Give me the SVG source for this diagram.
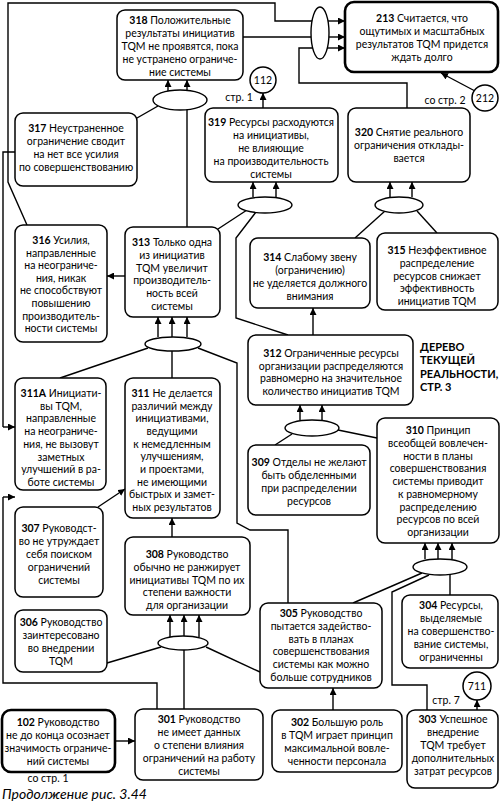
<svg xmlns="http://www.w3.org/2000/svg" width="500" height="802" viewBox="0 0 500 802">
<style>
.b{fill:#fff;stroke:#000;stroke-width:1.5}
.k{fill:#fff;stroke:#000;stroke-width:2.6}
.e{fill:#fff;stroke:#000;stroke-width:1.4}
.c{fill:none;stroke:#000;stroke-width:1.4}
.a{fill:none;stroke:#000;stroke-width:1.4;marker-end:url(#ah)}
text{font-family:Lato,"Open Sans",sans-serif;font-size:10.5px;fill:#000;text-anchor:middle}
.n{font-weight:700}
.ti{font-weight:700;font-size:11px;text-anchor:start}
.cap{font-style:italic;font-size:14px;text-anchor:start}
</style>
<defs>
<marker id="ah" markerUnits="userSpaceOnUse" markerWidth="8" markerHeight="7" refX="7" refY="3.5" orient="auto">
<path d="M0,0 L7,3.5 L0,7 z" fill="#000"/>
</marker>
</defs>
<rect width="500" height="802" fill="#fff"/>

<g id="connectors">
<path class="c" d="M27,225 L8,182 L8,3 L275,3 L275,21 L313,21"/>
<path class="c" d="M243,37 L311,37"/>
<path class="c" d="M407,108 L407,83 L299,83 L299,48 L313,48"/>
<path class="a" d="M328,21 L345,21"/>
<path class="a" d="M329,37 L345,37"/>
<path class="a" d="M327,48 L345,48"/>
<path class="a" d="M475,91 L441,73"/>
<path class="a" d="M168,91 L168,80"/>
<path class="a" d="M187,91 L187,80"/>
<path class="c" d="M137,118 L158,106"/>
<path class="c" d="M187,227 L187,109"/>
<path class="c" d="M15,152 L3,152 L3,427"/>
<path class="a" d="M3,427 L15,427"/>
<path class="a" d="M263,108 L263,93"/>
<path class="a" d="M253,197 L253,182"/>
<path class="a" d="M276,197 L276,182"/>
<path class="c" d="M218,229 L247,210"/>
<path class="c" d="M288,335 L236,318 L236,238 L256,212"/>
<path class="a" d="M390,197 L390,182"/>
<path class="a" d="M412,197 L412,182"/>
<path class="c" d="M355,238 L385,211"/>
<path class="c" d="M437,233 L417,211"/>
<path class="a" d="M125,276 L107,276"/>
<path class="a" d="M158,337 L158,317"/>
<path class="a" d="M172,337 L172,317"/>
<path class="a" d="M187,337 L187,317"/>
<path class="c" d="M60,378 L148,348"/>
<path class="c" d="M172,378 L172,351"/>
<path class="c" d="M198,348 L237,363 L237,523 L250,530 L288,530 L288,603"/>
<path class="a" d="M313,335 L313,308"/>
<path class="a" d="M300,420 L300,405"/>
<path class="a" d="M322,420 L322,405"/>
<path class="c" d="M275,445 L292,434"/>
<path class="c" d="M377,438 L338,430"/>
<path class="a" d="M425,559 L425,543"/>
<path class="a" d="M438,559 L438,543"/>
<path class="a" d="M452,559 L452,543"/>
<path class="c" d="M353,603 L422,573"/>
<path class="c" d="M427,710 L427,685 L392,685 L392,592 L429,575"/>
<path class="c" d="M450,595 L450,575"/>
<path class="a" d="M477,710 L477,700"/>
<path class="a" d="M333,710 L333,688"/>
<path class="a" d="M115,741 L135,741"/>
<path class="c" d="M157,709 L157,683 L3,683 L3,497"/>
<path class="a" d="M3,497 L15,497"/>
<path class="c" d="M184,709 L184,650"/>
<path class="c" d="M107,663 L161,647"/>
<path class="c" d="M206,647 L260,672"/>
<path class="a" d="M170,637 L170,615"/>
<path class="a" d="M184,636 L184,615"/>
<path class="a" d="M199,637 L199,615"/>
<path class="a" d="M172,537 L172,518"/>
<path class="a" d="M98,507 L125,489"/>
</g>

<g id="ands">
<ellipse class="e" cx="320" cy="33" rx="9" ry="26"/>
<ellipse class="e" cx="180" cy="100" rx="27" ry="10"/>
<ellipse class="e" cx="265" cy="205" rx="27" ry="8"/>
<ellipse class="e" cx="399" cy="205" rx="24" ry="8"/>
<ellipse class="e" cx="173" cy="344" rx="28" ry="7"/>
<ellipse class="e" cx="312" cy="428" rx="27" ry="8"/>
<ellipse class="e" cx="440" cy="567" rx="27" ry="8"/>
<ellipse class="e" cx="183" cy="643" rx="25" ry="7"/>
</g>

<g id="n213"><rect class="k" x="345" y="2" width="153" height="70" rx="9"/>
<text><tspan x="422" y="22"><tspan class="n">213</tspan> Считается, что</tspan><tspan x="422" y="35">ощутимых и масштабных</tspan><tspan x="422" y="48">результатов TQM придется</tspan><tspan x="422" y="61">ждать долго</tspan></text></g>

<g id="n318"><rect class="b" x="117" y="10" width="126" height="70" rx="8"/>
<text><tspan x="180" y="24"><tspan class="n">318</tspan> Положительные</tspan><tspan x="180" y="37">результаты инициатив</tspan><tspan x="180" y="50">TQM не проявятся, пока</tspan><tspan x="180" y="63">не устранено ограниче-</tspan><tspan x="180" y="76">ние системы</tspan></text></g>

<g id="n317"><rect class="b" x="15" y="113" width="122" height="73" rx="8"/>
<text><tspan x="76" y="132"><tspan class="n">317</tspan> Неустраненное</tspan><tspan x="76" y="145">ограничение сводит</tspan><tspan x="76" y="158">на нет все усилия</tspan><tspan x="76" y="171">по совершенствованию</tspan></text></g>

<g id="c112"><circle class="b" cx="263" cy="80" r="13"/><text x="263" y="84">112</text></g>
<text x="239" y="101">стр. 1</text>

<g id="c212"><circle class="b" cx="485" cy="98" r="13"/><text x="485" y="102">212</text></g>
<text x="445" y="104">со стр. 2</text>

<g id="n319"><rect class="b" x="205" y="108" width="133" height="74" rx="8"/>
<text><tspan x="271" y="126"><tspan class="n">319</tspan> Ресурсы расходуются</tspan><tspan x="271" y="139">на инициативы,</tspan><tspan x="271" y="152">не влияющие</tspan><tspan x="271" y="165">на производительность</tspan><tspan x="271" y="178">системы</tspan></text></g>

<g id="n320"><rect class="b" x="348" y="108" width="122" height="74" rx="8"/>
<text><tspan x="409" y="136"><tspan class="n">320</tspan> Снятие реального</tspan><tspan x="409" y="149">ограничения отклады-</tspan><tspan x="409" y="162">вается</tspan></text></g>

<g id="n316"><rect class="b" x="15" y="225" width="92" height="117" rx="8"/>
<text><tspan x="61" y="244"><tspan class="n">316</tspan> Усилия,</tspan><tspan x="61" y="256.6">направленные</tspan><tspan x="61" y="269.2">на неограниче-</tspan><tspan x="61" y="281.8">ния, никак</tspan><tspan x="61" y="294.4">не способствуют</tspan><tspan x="61" y="307">повышению</tspan><tspan x="61" y="319.6">производитель-</tspan><tspan x="61" y="332.2">ности системы</tspan></text></g>

<g id="n313"><rect class="b" x="125" y="227" width="95" height="90" rx="8"/>
<text><tspan x="172" y="246"><tspan class="n">313</tspan> Только одна</tspan><tspan x="172" y="258.8">из инициатив</tspan><tspan x="172" y="271.6">TQM увеличит</tspan><tspan x="172" y="284.4">производитель-</tspan><tspan x="172" y="297.2">ность всей</tspan><tspan x="172" y="310">системы</tspan></text></g>

<g id="n314"><rect class="b" x="250" y="238" width="120" height="70" rx="8"/>
<text><tspan x="310" y="261"><tspan class="n">314</tspan> Слабому звену</tspan><tspan x="310" y="274">(ограничению)</tspan><tspan x="310" y="287">не уделяется должного</tspan><tspan x="310" y="300">внимания</tspan></text></g>

<g id="n315"><rect class="b" x="377" y="233" width="121" height="77" rx="8"/>
<text><tspan x="437" y="254"><tspan class="n">315</tspan> Неэффективное</tspan><tspan x="437" y="266.8">распределение</tspan><tspan x="437" y="279.6">ресурсов снижает</tspan><tspan x="437" y="292.4">эффективность</tspan><tspan x="437" y="305.2">инициатив TQM</tspan></text></g>

<g id="n312"><rect class="b" x="248" y="335" width="165" height="70" rx="8"/>
<text><tspan x="331" y="357"><tspan class="n">312</tspan> Ограниченные ресурсы</tspan><tspan x="331" y="369.7">организации распределяются</tspan><tspan x="331" y="382.4">равномерно на значительное</tspan><tspan x="331" y="395.1">количество инициатив TQM</tspan></text></g>

<text class="ti"><tspan x="420" y="351">ДЕРЕВО</tspan><tspan x="420" y="364.3">ТЕКУЩЕЙ</tspan><tspan x="420" y="377.6">РЕАЛЬНОСТИ,</tspan><tspan x="420" y="391">СТР. 3</tspan></text>

<g id="n311A"><rect class="b" x="15" y="378" width="91" height="112" rx="8"/>
<text><tspan x="61" y="397"><tspan class="n">311A</tspan> Инициати-</tspan><tspan x="61" y="409.7">вы TQM,</tspan><tspan x="61" y="422.4">направленные</tspan><tspan x="61" y="435.1">на неограниче-</tspan><tspan x="61" y="447.8">ния, не вызовут</tspan><tspan x="61" y="460.6">заметных</tspan><tspan x="61" y="473.3">улучшений в ра-</tspan><tspan x="61" y="486">боте системы</tspan></text></g>

<g id="n311"><rect class="b" x="125" y="378" width="95" height="140" rx="8"/>
<text><tspan x="172" y="397"><tspan class="n">311</tspan> Не делается</tspan><tspan x="172" y="409.7">различий между</tspan><tspan x="172" y="422.3">инициативами,</tspan><tspan x="172" y="435">ведущими</tspan><tspan x="172" y="447.7">к немедленным</tspan><tspan x="172" y="460.3">улучшениям,</tspan><tspan x="172" y="473">и проектами,</tspan><tspan x="172" y="485.7">не имеющими</tspan><tspan x="172" y="498.3">быстрых и замет-</tspan><tspan x="172" y="511">ных результатов</tspan></text></g>

<g id="n309"><rect class="b" x="248" y="445" width="122" height="70" rx="8"/>
<text><tspan x="309" y="466"><tspan class="n">309</tspan> Отделы не желают</tspan><tspan x="309" y="479">быть обделенными</tspan><tspan x="309" y="492">при распределении</tspan><tspan x="309" y="505">ресурсов</tspan></text></g>

<g id="n310"><rect class="b" x="377" y="418" width="122" height="125" rx="8"/>
<text><tspan x="438" y="434"><tspan class="n">310</tspan> Принцип</tspan><tspan x="438" y="446.75">всеобщей вовлечен-</tspan><tspan x="438" y="459.5">ности в планы</tspan><tspan x="438" y="472.25">совершенствования</tspan><tspan x="438" y="485">системы приводит</tspan><tspan x="438" y="497.75">к равномерному</tspan><tspan x="438" y="510.5">распределению</tspan><tspan x="438" y="523.25">ресурсов по всей</tspan><tspan x="438" y="536">организации</tspan></text></g>

<g id="n307"><rect class="b" x="15" y="507" width="88" height="90" rx="8"/>
<text><tspan x="59" y="532"><tspan class="n">307</tspan> Руководст-</tspan><tspan x="59" y="545">во не утруждает</tspan><tspan x="59" y="558">себя поиском</tspan><tspan x="59" y="571">ограничений</tspan><tspan x="59" y="584">системы</tspan></text></g>

<g id="n308"><rect class="b" x="125" y="537" width="125" height="78" rx="8"/>
<text><tspan x="187" y="558"><tspan class="n">308</tspan> Руководство</tspan><tspan x="187" y="570.8">обычно не ранжирует</tspan><tspan x="187" y="583.6">инициативы TQM по их</tspan><tspan x="187" y="596.4">степени важности</tspan><tspan x="187" y="609.2">для организации</tspan></text></g>

<g id="n306"><rect class="b" x="15" y="610" width="92" height="62" rx="8"/>
<text><tspan x="61" y="626"><tspan class="n">306</tspan> Руководство</tspan><tspan x="61" y="639">заинтересовано</tspan><tspan x="61" y="652">во внедрении</tspan><tspan x="61" y="665">TQM</tspan></text></g>

<g id="n305"><rect class="b" x="260" y="603" width="122" height="85" rx="8"/>
<text><tspan x="321" y="617"><tspan class="n">305</tspan> Руководство</tspan><tspan x="321" y="629.8">пытается задейство-</tspan><tspan x="321" y="642.6">вать в планах</tspan><tspan x="321" y="655.4">совершенствования</tspan><tspan x="321" y="668.2">системы как можно</tspan><tspan x="321" y="681">больше сотрудников</tspan></text></g>

<g id="n304"><rect class="b" x="402" y="595" width="96" height="73" rx="8"/>
<text><tspan x="451" y="609"><tspan class="n">304</tspan> Ресурсы,</tspan><tspan x="451" y="622">выделяемые</tspan><tspan x="451" y="635">на совершенство-</tspan><tspan x="451" y="648">вание системы,</tspan><tspan x="451" y="661">ограниченны</tspan></text></g>

<g id="c711"><circle class="b" cx="477" cy="686" r="14"/><text x="477" y="690">711</text></g>
<text x="446" y="704">стр. 7</text>

<g id="n102"><rect class="k" x="2" y="710" width="113" height="62" rx="9"/>
<text><tspan x="58" y="726"><tspan class="n">102</tspan> Руководство</tspan><tspan x="58" y="739">не до конца осознает</tspan><tspan x="58" y="752">значимость ограниче-</tspan><tspan x="58" y="765">ний системы</tspan></text></g>

<g id="n301"><rect class="b" x="135" y="709" width="128" height="71" rx="8"/>
<text><tspan x="199" y="723"><tspan class="n">301</tspan> Руководство</tspan><tspan x="199" y="736">не имеет данных</tspan><tspan x="199" y="749">о степени влияния</tspan><tspan x="199" y="762">ограничений на работу</tspan><tspan x="199" y="775">системы</tspan></text></g>

<g id="n302"><rect class="b" x="272" y="710" width="130" height="62" rx="8"/>
<text><tspan x="337" y="726"><tspan class="n">302</tspan> Большую роль</tspan><tspan x="337" y="739">в TQM играет принцип</tspan><tspan x="337" y="752">максимальной вовле-</tspan><tspan x="337" y="765">ченности персонала</tspan></text></g>

<g id="n303"><rect class="b" x="407" y="710" width="91" height="78" rx="8"/>
<text><tspan x="453" y="723"><tspan class="n">303</tspan> Успешное</tspan><tspan x="453" y="736">внедрение</tspan><tspan x="453" y="749">TQM требует</tspan><tspan x="453" y="762">дополнительных</tspan><tspan x="453" y="775">затрат ресурсов</tspan></text></g>

<text x="48" y="782">со стр. 1</text>
<text class="cap" x="2" y="799">Продолжение рис. 3.44</text>
</svg>
